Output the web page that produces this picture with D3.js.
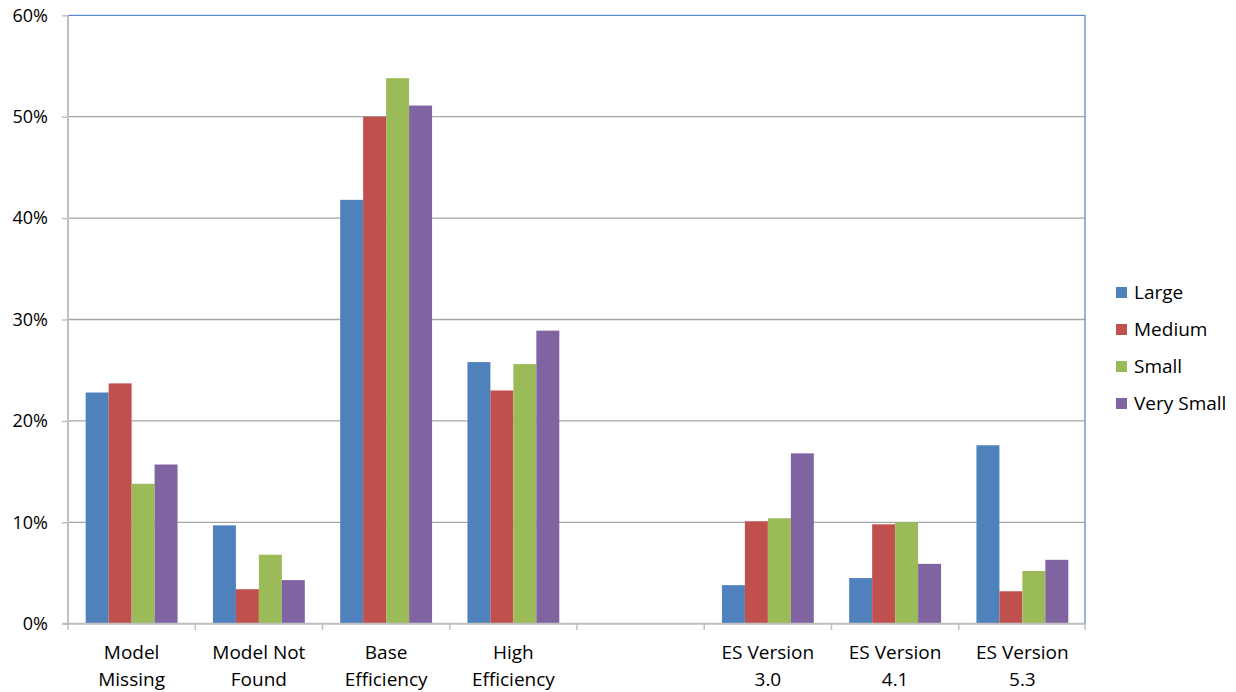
<!DOCTYPE html>
<html>
<head>
<meta charset="utf-8">
<script src="https://cdn.jsdelivr.net/npm/d3@7"></script>
<style>
  html, body { margin: 0; padding: 0; background: #fff; }
  svg text { font-family: "Open Sans", "Liberation Sans", sans-serif; fill: #000; }
</style>
</head>
<body>
<svg id="chart" width="1236" height="692"></svg>
<script>
// Category labels (two lines each); the fifth slot is intentionally empty
const categories = [
  ["Model", "Missing"],
  ["Model Not", "Found"],
  ["Base", "Efficiency"],
  ["High", "Efficiency"],
  ["", ""],
  ["ES Version", "3.0"],
  ["ES Version", "4.1"],
  ["ES Version", "5.3"]
];
const seriesNames = ["Large", "Medium", "Small", "Very Small"];
const seriesColors = ["#4F81BD", "#C0504D", "#9BBB59", "#8064A2"];

// Share of each size class per category (null = no bar)
const large     = [0.228, 0.097, 0.418, 0.258, null, 0.038, 0.045, 0.176];
const medium    = [0.237, 0.034, 0.500, 0.230, null, 0.101, 0.098, 0.032];
const small     = [0.138, 0.068, 0.538, 0.256, null, 0.104, 0.100, 0.052];
const verySmall = [0.157, 0.043, 0.511, 0.289, null, 0.168, 0.059, 0.063];
const series = [large, medium, small, verySmall];

const yTicks = [0, 0.1, 0.2, 0.3, 0.4, 0.5, 0.6];

(function draw() {
  const svg = d3.select("#chart");
  const plotLeft = 68, plotRight = 1086, plotTop = 15.3, plotBottom = 623.7;

  const x = d3.scaleBand()
    .domain(d3.range(categories.length))
    .range([plotLeft, plotRight])
    .paddingInner(0.278)
    .paddingOuter(0.139);

  const xCat = d3.scaleBand()
    .domain(d3.range(categories.length))
    .range([plotLeft, plotRight]);

  const xInner = d3.scaleBand()
    .domain(d3.range(series.length))
    .range([0, x.bandwidth()]);

  const y = d3.scaleLinear().domain([0, 0.6]).range([plotBottom, plotTop]);

  // Horizontal gridlines
  svg.append("g")
    .selectAll("line")
    .data(yTicks.filter(t => t > 0 && t < 0.6))
    .join("line")
    .attr("x1", plotLeft).attr("x2", plotRight - 1)
    .attr("y1", d => y(d)).attr("y2", d => y(d))
    .attr("stroke", "#A6A6A6").attr("stroke-width", 1.3);

  // Bars
  const groups = svg.append("g")
    .selectAll("g")
    .data(series)
    .join("g")
    .attr("fill", (d, i) => seriesColors[i]);

  groups.each(function(vals, si) {
    d3.select(this).selectAll("rect")
      .data(vals.map((v, ci) => ({ v, ci })).filter(d => d.v != null))
      .join("rect")
      .attr("x", d => x(d.ci) + xInner(si))
      .attr("width", xInner.bandwidth())
      .attr("y", d => y(d.v))
      .attr("height", d => y(0) - y(d.v));
  });

  // Plot area border (top and right edges)
  svg.append("path")
    .attr("d", `M${plotLeft},${y(0.6)}H${plotRight - 1}V${plotBottom}`)
    .attr("fill", "none")
    .attr("stroke", "#5B8BCB")
    .attr("stroke-width", 1.3);

  // Y axis
  const yAxis = d3.axisLeft(y)
    .tickValues(yTicks)
    .tickFormat(d3.format(".0%"))
    .tickSize(6)
    .tickPadding(14);

  const yg = svg.append("g")
    .attr("transform", `translate(${plotLeft},0)`)
    .call(yAxis);
  yg.select(".domain").attr("stroke", "#BFBFBF").attr("stroke-width", 2)
    .attr("d", `M0,${plotTop}V${plotBottom}`);
  yg.selectAll(".tick line").attr("stroke", "#BFBFBF").attr("stroke-width", 1.5);
  yg.selectAll(".tick text")
    .attr("font-size", 18)
    .attr("fill", "#000")
    .style("font-family", "'Open Sans', 'Liberation Sans', sans-serif");

  // X axis line and category boundary ticks
  const xg = svg.append("g");
  xg.append("line")
    .attr("x1", plotLeft - 6).attr("x2", plotRight)
    .attr("y1", plotBottom).attr("y2", plotBottom)
    .attr("stroke", "#BFBFBF").attr("stroke-width", 2);
  xg.selectAll("line.tk")
    .data(d3.range(categories.length + 1))
    .join("line")
    .attr("class", "tk")
    .attr("x1", d => d < categories.length ? xCat(d) : plotRight - 1)
    .attr("x2", d => d < categories.length ? xCat(d) : plotRight - 1)
    .attr("y1", plotBottom).attr("y2", plotBottom + 6)
    .attr("stroke", "#BFBFBF").attr("stroke-width", 1.5);

  // Category labels
  const labels = xg.selectAll("text.cat")
    .data(categories.map((c, i) => ({ c, i })))
    .join("text")
    .attr("class", "cat")
    .attr("text-anchor", "middle")
    .attr("font-size", 19)
    .attr("x", d => xCat(d.i) + xCat.bandwidth() / 2);
  labels.append("tspan")
    .attr("x", d => xCat(d.i) + xCat.bandwidth() / 2)
    .attr("y", 659)
    .text(d => d.c[0]);
  labels.append("tspan")
    .attr("x", d => xCat(d.i) + xCat.bandwidth() / 2)
    .attr("y", 686)
    .text(d => d.c[1]);

  // Legend
  const legend = svg.append("g")
    .selectAll("g")
    .data(seriesNames)
    .join("g")
    .attr("transform", (d, i) => `translate(1116,${292 + i * 37})`);
  legend.append("rect")
    .attr("x", 0).attr("y", -5)
    .attr("width", 11).attr("height", 11)
    .attr("fill", (d, i) => seriesColors[i]);
  legend.append("text")
    .attr("x", 18).attr("y", 0)
    .attr("dy", "0.35em")
    .attr("font-size", 19)
    .text(d => d);
})();
</script>
</body>
</html>
